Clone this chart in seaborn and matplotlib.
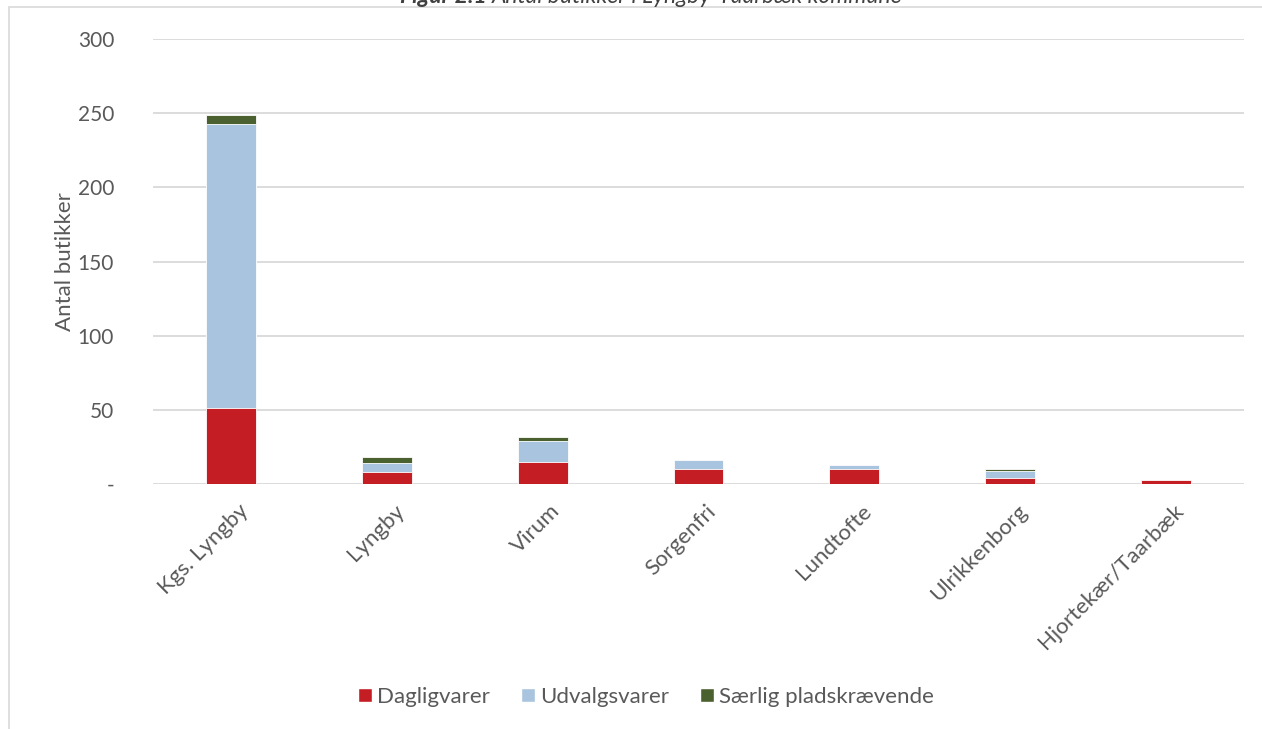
import numpy as np
import pandas as pd
import matplotlib.pyplot as plt
import matplotlib.transforms as mtransforms
from matplotlib.patches import Patch, Rectangle
from matplotlib.ticker import FuncFormatter
import seaborn as sns

omraader = ["Kgs. Lyngby", "Lyngby", "Virum", "Sorgenfri", "Lundtofte", "Ulrikkenborg", "Hjortekær/Taarbæk"]
dagligvarer = [51, 8, 15, 10, 10, 4, 3]
udvalgsvarer = [192, 6, 14, 6, 3, 5, 0]
saerlig = [6, 4, 3, 0, 0, 1, 0]

serier = ["Dagligvarer", "Udvalgsvarer", "Særlig pladskrævende"]
farver = ["#C41E24", "#A9C4DE", "#4B602F"]

df = pd.DataFrame({"omraade": omraader, "Dagligvarer": dagligvarer,
                   "Udvalgsvarer": udvalgsvarer, "Særlig pladskrævende": saerlig})
cum = df[serier].cumsum(axis=1)

sns.set_style("white")
plt.rcParams["font.family"] = ["Lato", "DejaVu Sans"]
grey = "#595959"

fig = plt.figure(figsize=(12.62, 7.29), dpi=100)
ax = fig.add_axes([0.1212, 0.336, 0.8645, 0.6104])

# stablede søjler: tegn kumulerede summer bagfra
for s, c in reversed(list(zip(serier, farver))):
    sns.barplot(x=df["omraade"], y=cum[s], color=c, width=0.32, ax=ax,
                edgecolor="white", linewidth=0.6, saturation=1, zorder=3)

ax.set_ylim(0, 300)
ax.set_xlim(-0.5, len(omraader) - 0.5)
ax.set_yticks(range(0, 301, 50))
ax.yaxis.set_major_formatter(FuncFormatter(lambda v, p: "-" if v == 0 else f"{int(v)}"))
ax.grid(axis="y", color="#D9D9D9", linewidth=1.3, zorder=0)
ax.set_axisbelow(True)
for sp in ax.spines.values():
    sp.set_visible(False)
ax.tick_params(axis="both", length=0, labelcolor=grey)
ax.tick_params(axis="y", pad=28, labelsize=15)
ax.tick_params(axis="x", labelsize=16, pad=12)
ax.set_xlabel("")
ax.set_ylabel("Antal butikker", fontsize=16, color=grey, labelpad=2)

offset = mtransforms.ScaledTranslation(0.07, 0.0, fig.dpi_scale_trans)
ax.set_xticks(range(len(omraader)))
ax.set_xticklabels(omraader, rotation=45, ha="right", rotation_mode="anchor")
for lbl in ax.get_xticklabels():
    lbl.set_transform(lbl.get_transform() + offset)

handles = [Patch(facecolor=c, label=s) for s, c in zip(serier, farver)]
fig.legend(handles=handles, loc="center", bbox_to_anchor=(0.512, 1 - 697 / 729), ncol=3,
           frameon=False, fontsize=16, labelcolor=grey, handlelength=0.6, handleheight=0.6,
           handletextpad=0.25, columnspacing=1.4)

fig.patches.append(Rectangle((8.5 / 1262, -0.1), 1.2, 1.1 - 7.5 / 729, transform=fig.transFigure,
                             fill=False, edgecolor="#D9D9D9", linewidth=1.2))

fig.text(492 / 1262, 1 - 3 / 729, "Figur 2.1 ", fontsize=16.5, fontweight="bold", fontstyle="italic",
         ha="right", va="baseline", color="#404040")
fig.text(492 / 1262, 1 - 3 / 729, "Antal butikker i Lyngby-Taarbæk kommune", fontsize=16.5,
         fontstyle="italic", ha="left", va="baseline", color="#404040")

fig.savefig("out.png", dpi=100)
